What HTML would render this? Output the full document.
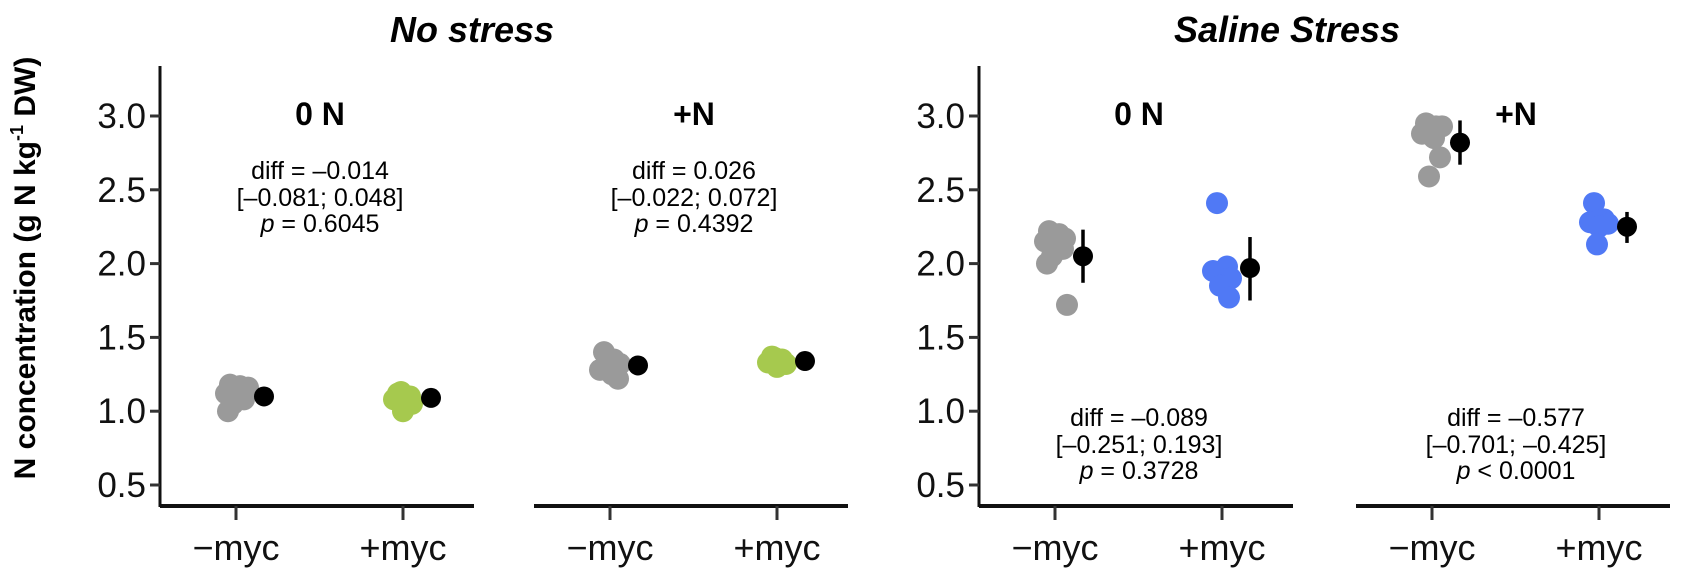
<!DOCTYPE html>
<html><head><meta charset="utf-8"><style>
html,body{margin:0;padding:0;background:#fff;}
svg{display:block;font-family:"Liberation Sans Narrow","Liberation Sans",Arial,sans-serif;}
.w{font-family:"Liberation Sans",Arial,sans-serif;}
</style></head><body>
<svg id="chart" width="1682" height="573" viewBox="0 0 1682 573" xmlns="http://www.w3.org/2000/svg">
<text class="w" transform="translate(35,268) rotate(-90)" text-anchor="middle" font-size="30" font-weight="bold">N concentration (g N kg<tspan font-size="18" dy="-12">-1</tspan><tspan dy="12"> DW)</tspan></text>
<text class="w" x="472" y="42" text-anchor="middle" font-size="36" font-weight="bold" font-style="italic">No stress</text>
<text class="w" x="1287" y="42" text-anchor="middle" font-size="36" font-weight="bold" font-style="italic">Saline Stress</text>
<g id="plots"></g>
</svg>
<script>
const yTicks = [0.5, 1.0, 1.5, 2.0, 2.5, 3.0];
const yTickLabels = ["0.5", "1.0", "1.5", "2.0", "2.5", "3.0"];
const categories = ["\u2212myc", "+myc"];
const panelTitles = ["0 N", "+N", "0 N", "+N"];
const ctrlValues = [
  [1.18,1.17,1.15,1.12,1.10,1.08,1.05,1.00,1.16],
  [1.40,1.35,1.32,1.28,1.25,1.22,1.30],
  [2.22,2.20,2.17,2.15,2.12,2.10,2.05,2.00,1.72],
  [2.95,2.93,2.93,2.88,2.85,2.72,2.59]
];
const mycValues = [
  [1.12,1.10,1.08,1.05,1.00,1.13,1.10],
  [1.37,1.35,1.33,1.32,1.30,1.36],
  [2.41,1.98,1.95,1.90,1.85,1.85,1.77],
  [2.41,2.30,2.28,2.27,2.25,2.13]
];
const ctrlMean = [1.10, 1.31, 2.05, 2.82];
const ctrlLo = [1.10, 1.31, 1.87, 2.67];
const ctrlHi = [1.10, 1.31, 2.23, 2.97];
const mycMean = [1.09, 1.34, 1.97, 2.25];
const mycLo = [1.09, 1.34, 1.75, 2.14];
const mycHi = [1.09, 1.34, 2.18, 2.35];
const diffLabels = ["diff = \u20130.014","diff = 0.026","diff = \u20130.089","diff = \u20130.577"];
const ciLabels = ["[\u20130.081; 0.048]","[\u20130.022; 0.072]","[\u20130.251; 0.193]","[\u20130.701; \u20130.425]"];
const pLabels = ["= 0.6045","= 0.4392","= 0.3728","< 0.0001"];

const NS = "http://www.w3.org/2000/svg";
const g = document.getElementById("plots");
function mk(tag, attrs, parent){const e=document.createElementNS(NS,tag);for(const k in attrs)e.setAttribute(k,attrs[k]);(parent||g).appendChild(e);return e;}
function y(v){return 485 - 147.6*(v-0.5);}
const panelX = [160, 534, 979, 1356];
const panelW = 314;
const tickOff = [76, 243];
const axisY = 506;
const jitter = [[-6,4,10,-10,2,8,-3,-8,12],[-5,5,-9,9,0,-2,7]];
const colors = [["#9a9a9a","#a6c94e"],["#9a9a9a","#a6c94e"],["#9a9a9a","#5079f5"],["#9a9a9a","#5079f5"]];

[0,2].forEach(function(pi){
  const x0 = panelX[pi];
  const ax = mk("line",{x1:x0,y1:66,x2:x0,y2:axisY+1,stroke:"#111","stroke-width":3});
  
  
  yTicks.forEach(function(t,i){
    const tk = mk("line",{x1:x0-10,y1:y(t),x2:x0,y2:y(t),stroke:"#333","stroke-width":3});
    
    
    const tl = mk("text",{x:x0-14,y:y(t)+12,"text-anchor":"end","font-size":35,fill:"#111"});
    
    
    tl.textContent = yTickLabels[i];
  });
});

for(let p=0;p<4;p++){
  const x0 = panelX[p];
  const xa = mk("line",{x1:x0,y1:axisY,x2:x0+panelW,y2:axisY,stroke:"#111","stroke-width":4});
  
  
  const title = mk("text",{x:x0+160,y:125,"text-anchor":"middle","font-size":32,"font-weight":"bold","class":"w"});
  
  
  title.textContent = panelTitles[p];
  for(let c=0;c<2;c++){
    const tx = x0 + tickOff[c];
    const tk = mk("line",{x1:tx,y1:axisY,x2:tx,y2:axisY+14,stroke:"#333","stroke-width":3});
    
    
    const lb = mk("text",{x:tx,y:560,"text-anchor":"middle","font-size":36,fill:"#111"});
    
    
    lb.textContent = categories[c];
    const vals = c===0 ? ctrlValues[p] : mycValues[p];
    vals.forEach(function(v,i){
      const pt = mk("circle",{cx:tx+jitter[c][i%jitter[c].length],cy:y(v),r:11,fill:colors[p][c]});
      
      
    });
    const m = c===0?ctrlMean[p]:mycMean[p], lo=c===0?ctrlLo[p]:mycLo[p], hi=c===0?ctrlHi[p]:mycHi[p];
    const mx = tx + 28;
    if(hi>lo){
      const eb = mk("line",{x1:mx,y1:y(lo),x2:mx,y2:y(hi),stroke:"#000","stroke-width":3.5});
      
      
    }
    const mp = mk("circle",{cx:mx,cy:y(m),r:10,fill:"#000"});
    
    
  }
  const ay = p<2 ? 171 : 418;
  const ax = x0 + 160;
  const t1 = mk("text",{x:ax,y:ay+8,"text-anchor":"middle","font-size":25});
  
  
  t1.textContent = diffLabels[p];
  const t2 = mk("text",{x:ax,y:ay+35,"text-anchor":"middle","font-size":25});
  
  
  t2.textContent = ciLabels[p];
  const t3 = mk("text",{x:ax,y:ay+61,"text-anchor":"middle","font-size":25});
  
  
  const ts = mk("tspan",{"font-style":"italic"},t3); ts.textContent="p";
  const ts2 = mk("tspan",{},t3); ts2.textContent=" "+pLabels[p];
}
</script>
</body></html>
